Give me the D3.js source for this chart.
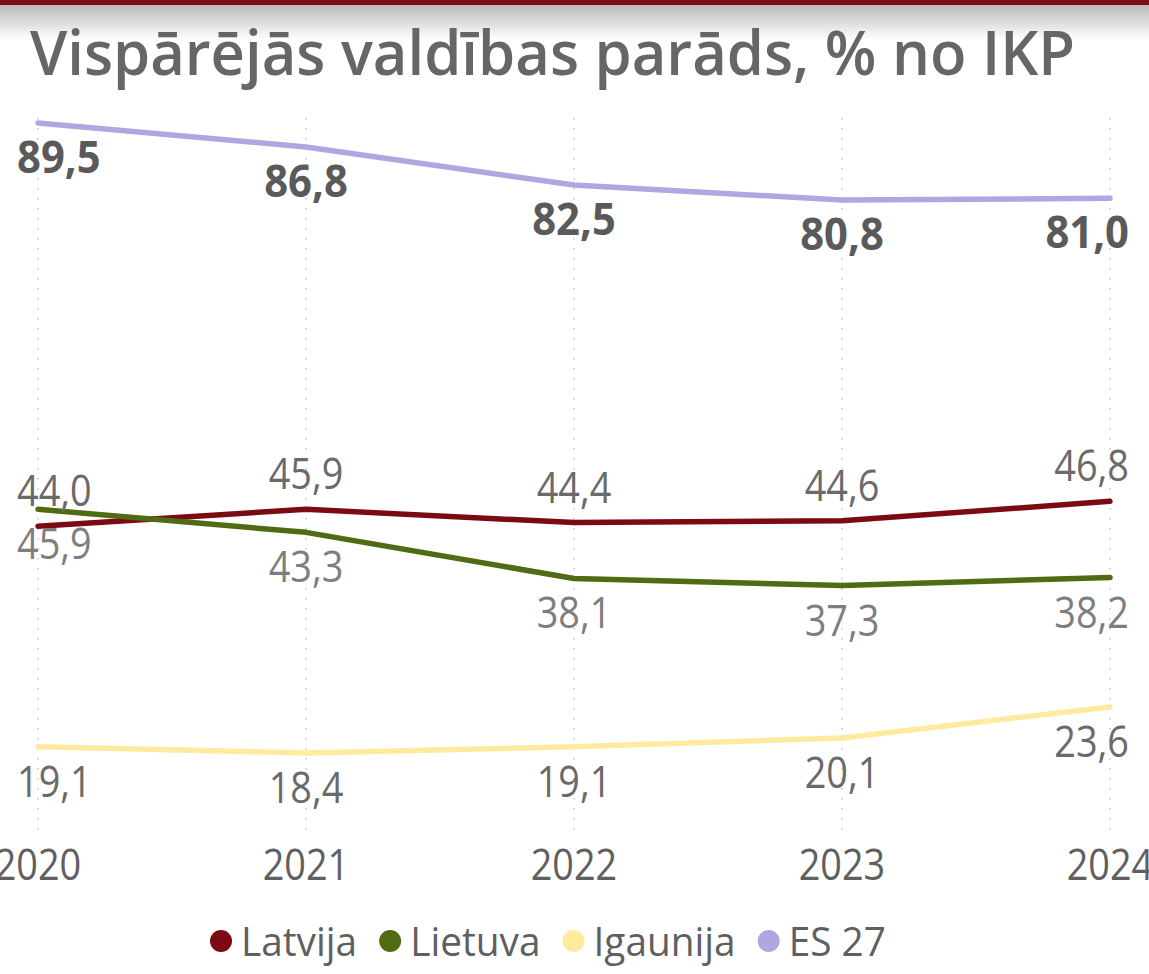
<!DOCTYPE html>
<html>
<head>
<meta charset="utf-8">
<script src="https://cdn.jsdelivr.net/npm/d3@7"></script>
<style>
  body { margin: 0; background: #fff; }
  text { font-family: "Open Sans", sans-serif; }
</style>
</head>
<body>
<script>
var W = 1149, H = 974;

var years = ["2020", "2021", "2022", "2023", "2024"];
var latvija = [44.0, 45.9, 44.4, 44.6, 46.8];
var lietuva = [45.9, 43.3, 38.1, 37.3, 38.2];
var igaunija = [19.1, 18.4, 19.1, 20.1, 23.6];
var es27 = [89.5, 86.8, 82.5, 80.8, 81.0];
var seriesNames = ["Latvija", "Lietuva", "Igaunija", "ES 27"];

var series = [
  {name: seriesNames[0], values: latvija, color: "#7b0a12", pos: "above", lab: "#6a6a6a", bold: false},
  {name: seriesNames[1], values: lietuva, color: "#4f6b14", pos: "below", lab: "#7e7e7e", bold: false},
  {name: seriesNames[2], values: igaunija, color: "#ffeaa0", pos: "below", lab: "#6a6a6a", bold: false},
  {name: seriesNames[3], values: es27, color: "#b0a6e0", pos: "below", lab: "#5a5a5a", bold: true}
];

var svg = d3.select("body").append("svg")
    .attr("width", W)
    .attr("height", H);

// top band
var defs = svg.append("defs");
var grad = defs.append("linearGradient").attr("id", "topfade")
    .attr("x1", 0).attr("y1", 0).attr("x2", 0).attr("y2", 1);
grad.append("stop").attr("offset", "0%").attr("stop-color", "#b8b8b8");
grad.append("stop").attr("offset", "100%").attr("stop-color", "#ffffff");
svg.append("rect").attr("x", 0).attr("y", 4).attr("width", W).attr("height", 36).attr("fill", "url(#topfade)");
svg.append("rect").attr("x", 0).attr("y", 0).attr("width", W).attr("height", 5).attr("fill", "#7a0c12");

svg.append("text")
    .attr("x", 30).attr("y", 75)
    .attr("font-size", 62).attr("font-weight", 600)
    .attr("fill", "#666666")
    .attr("textLength", 1045).attr("lengthAdjust", "spacingAndGlyphs")
    .text("Vispārējās valdības parāds, % no IKP");

var x = d3.scalePoint().domain(years).range([38, 1110]);
var y = d3.scaleLinear().domain([0, 100]).range([916, 30]);

// dotted gridlines
svg.append("g").selectAll("line")
  .data(years).enter().append("line")
    .attr("x1", function(d) { return x(d); })
    .attr("x2", function(d) { return x(d); })
    .attr("y1", 118).attr("y2", 832)
    .attr("stroke", "#c4c4c4")
    .attr("stroke-width", 1.5)
    .attr("stroke-dasharray", "1.5,8.5");

// x axis labels
var sx = 0.86;
svg.append("g").selectAll("text")
  .data(years).enter().append("text")
    .attr("transform", function(d) { return "translate(" + x(d) + ",880) scale(" + sx + ",1)"; })
    .attr("text-anchor", "middle")
    .attr("font-size", 44)
    .attr("fill", "#606060")
    .text(function(d) { return d; });

var line = d3.line()
    .x(function(d, i) { return x(years[i]); })
    .y(function(d) { return y(d); });

svg.append("g").selectAll("path")
  .data(series).enter().append("path")
    .attr("d", function(s) { return line(s.values); })
    .attr("fill", "none")
    .attr("stroke", function(s) { return s.color; })
    .attr("stroke-width", 5.5)
    .attr("stroke-linecap", "round")
    .attr("stroke-linejoin", "round");

// data labels
var fmt = function(v) { return v.toFixed(1).replace(".", ","); };
series.forEach(function(s) {
  var k = s.bold ? 0.95 : sx;
  s.values.forEach(function(v, i) {
    var cx = x(years[i]);
    var by = s.pos === "above" ? y(v) - 20 : y(v) + 50;
    var t = svg.append("text")
        .attr("text-anchor", "middle")
        .attr("font-size", 44)
        .attr("font-weight", s.bold ? 700 : 400)
        .attr("fill", s.lab)
        .text(fmt(v));
    var wdt = t.node().getComputedTextLength() * k;
    var left = Math.max(17, Math.min(1129 - wdt, cx - wdt / 2));
    t.attr("transform", "translate(" + (left + wdt / 2) + "," + by + ") scale(" + k + ",1)");
  });
});

// legend
var lg = svg.append("g");
var lx = 210, lk = 0.97;
series.forEach(function(s) {
  lg.append("circle").attr("cx", lx + 11).attr("cy", 941).attr("r", 11).attr("fill", s.color);
  var t = lg.append("text")
      .attr("font-size", 40)
      .attr("fill", "#5f5f5f")
      .attr("transform", "translate(" + (lx + 31) + ",956) scale(" + lk + ",1)")
      .text(s.name);
  lx += 31 + t.node().getComputedTextLength() * lk + 22;
});
</script>
</body>
</html>
